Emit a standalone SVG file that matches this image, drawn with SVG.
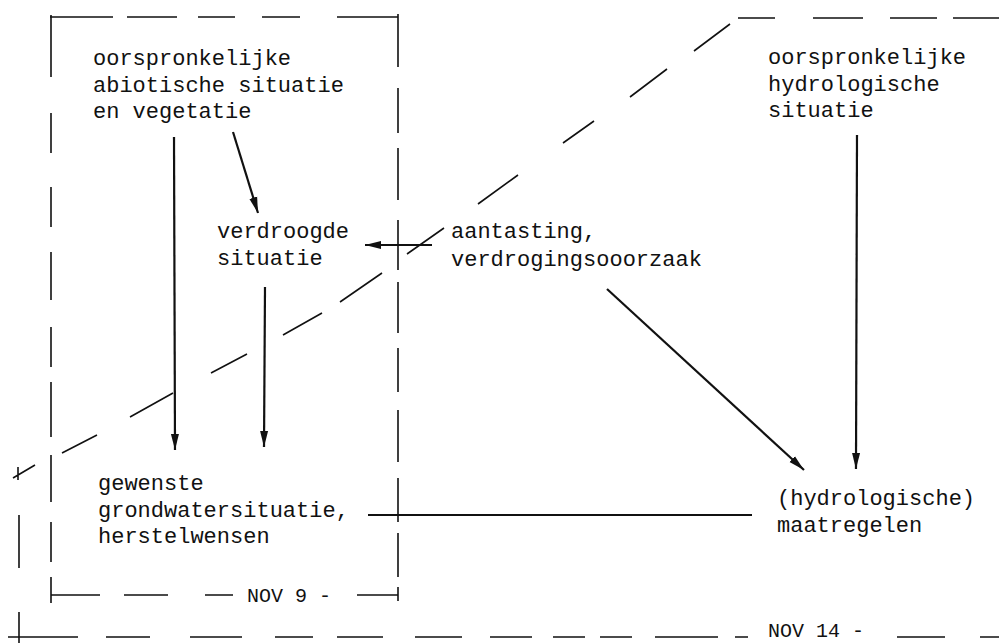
<svg xmlns="http://www.w3.org/2000/svg" width="999" height="643" viewBox="0 0 999 643">
<style>
.bg{fill:#ffffff}
.txt{font-family:"Liberation Mono","DejaVu Sans Mono",monospace;font-size:22px;fill:#111111}
.lbl{font-family:"Liberation Mono","DejaVu Sans Mono",monospace;font-size:20px;fill:#111111}
.dash{fill:none;stroke:#111111;stroke-width:1.6;stroke-linecap:butt}
.arrow{fill:none;stroke:#111111;stroke-width:2.2;marker-end:url(#ah)}
.plain{fill:none;stroke:#111111;stroke-width:2}
</style>
<defs>
<marker id="ah" markerUnits="userSpaceOnUse" markerWidth="18" markerHeight="10" refX="16" refY="4.5" orient="auto">
<path d="M0,0.5 L16,4.5 L0,8.5 Z" fill="#111111"/>
</marker>
</defs>
<rect class="bg" x="0" y="0" width="999" height="643"/>

<g id="boundaries">
<path id="box-nov9-top" class="dash" d="M50,17 H113 M127,17 H177 M198,17 H235 M262,17 H300 M337,17 H398"/>
<path id="box-nov9-left" class="dash" d="M51,15 V77 M51,113 V153 M51,187 V227 M51,252 V300 M51,327 V367 M51,382 V437 M51,455 V502 M51,522 V562 M51,577 V603"/>
<path id="box-nov9-right" class="dash" d="M398,14 V67 M398,88 V133 M398,148 V200 M398,220 V270 M398,282 V333 M398,348 V392 M398,410 V462 M398,478 V522 M398,533 V577 M398,587 V601"/>
<path id="box-nov9-bottom" class="dash" d="M51,595 H100 M124,595 H168 M205,595 H233 M357,595 H398"/>
<text class="lbl" x="247" y="602">NOV 9 -</text>

<path id="outer-diagonal" class="dash" d="M730,24 L694,51 M667,69 L630,97 M594,121 L563,143 M518,175 L478,204 M444,228 L407,254 M382,273 L340,302 M322,313 L283,335 M247,354 L211,373 M173,393 L130,417 M97,435 L62,453 M35,465 L13,478 M18,467 V480"/>
<path id="outer-top" class="dash" d="M738,18 H775 M813,18 H863 M890,18 H937 M953,18 H999"/>
<path id="outer-left" class="dash" d="M19,515 V568 M19,612 V643"/>
<path id="outer-bottom" class="dash" d="M8,637 H78 M106,637 H150 M190,637 H242 M275,637 H313 M337,637 H383 M415,637 H462 M490,637 H532 M553,637 H585 M600,637 H632 M655,637 H718 M735,637 H748 M897,637 H945 M980,637 H999"/>
<text class="lbl" x="768" y="637">NOV 14 -</text>
</g>

<g id="connectors">
<path id="c1" class="arrow" d="M174,137 L175,450"/>
<path id="c2" class="arrow" d="M233,132 L258,213"/>
<path id="c3" class="arrow" d="M265,287 L264,447"/>
<path id="c4" class="arrow" d="M432,245 L365,245"/>
<path id="c5" class="arrow" d="M607,289 L804,470"/>
<path id="c6" class="arrow" d="M857,135 L856,469"/>
<path id="c7" class="plain" d="M368,515 L752,515"/>
</g>

<g id="node-oorspronkelijk-abiotisch">
<text class="txt" x="93" y="65">oorspronkelijke</text>
<text class="txt" x="93" y="92">abiotische situatie</text>
<text class="txt" x="93" y="118">en vegetatie</text>
</g>
<g id="node-verdroogd">
<text class="txt" x="217" y="238">verdroogde</text>
<text class="txt" x="217" y="265">situatie</text>
</g>
<g id="node-aantasting">
<text class="txt" x="451" y="238">aantasting,</text>
<text class="txt" x="451" y="266">verdrogingsooorzaak</text>
</g>
<g id="node-oorspronkelijk-hydrologisch">
<text class="txt" x="768" y="64">oorspronkelijke</text>
<text class="txt" x="768" y="91">hydrologische</text>
<text class="txt" x="768" y="117">situatie</text>
</g>
<g id="node-gewenst">
<text class="txt" x="98" y="490">gewenste</text>
<text class="txt" x="98" y="517">grondwatersituatie,</text>
<text class="txt" x="98" y="543">herstelwensen</text>
</g>
<g id="node-maatregelen">
<text class="txt" x="777" y="505">(hydrologische)</text>
<text class="txt" x="777" y="532">maatregelen</text>
</g>
</svg>
